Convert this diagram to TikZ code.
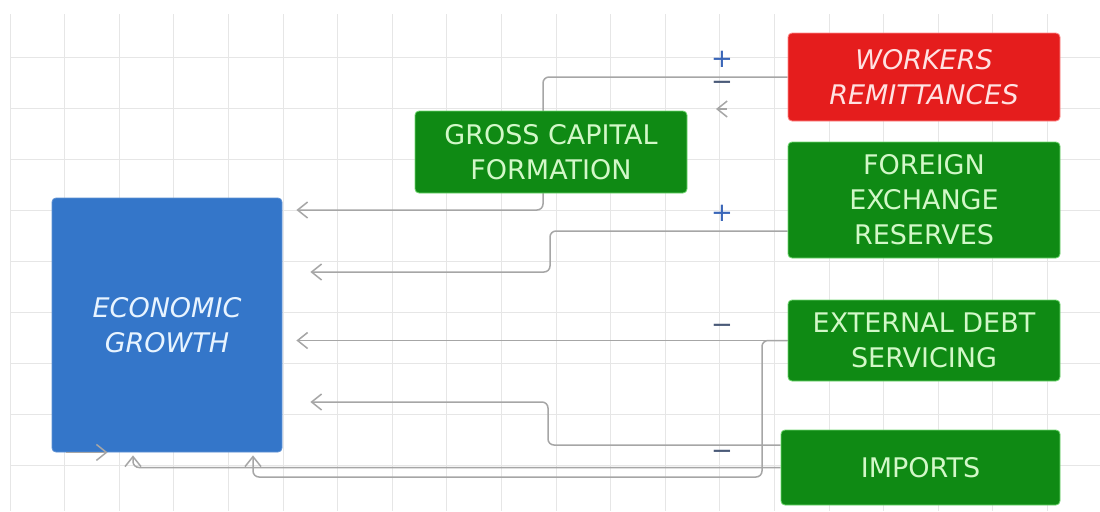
\documentclass[tikz,border=0pt]{standalone}
\usepackage{fontspec}
\setmainfont{DejaVu Sans}[ItalicFont={DejaVu Sans Oblique}]
\usetikzlibrary{arrows.meta}
\pgfdeclarelayer{background}
\pgfsetlayers{background,main}
\definecolor{egblue}{HTML}{3476C9}
\definecolor{boxgreen}{HTML}{0F8A14}
\definecolor{edgegreen}{HTML}{6FD86F}
\definecolor{textgreen}{HTML}{D2F8C8}
\definecolor{boxred}{HTML}{E51D1D}
\definecolor{edgered}{HTML}{FF8A8A}
\definecolor{textred}{HTML}{FFE2E2}
\definecolor{textblue}{HTML}{E8F4FF}
\definecolor{conngray}{HTML}{A6A6A6}
\definecolor{gridgray}{HTML}{E6E6E6}
\definecolor{signblue}{HTML}{3A66B8}
\definecolor{signdark}{HTML}{4A5A78}

\begin{document}
\begin{tikzpicture}[
    x=0.5pt, y=-0.5pt,
    >={Straight Barb[length=5pt, width=8pt]},
    box/.style={
        rounded corners=2pt, inner sep=0pt, align=center,
        line width=0.4pt, font=\fontsize{13.5}{17.5}\selectfont
      },
    greenbox/.style={box, fill=boxgreen, draw=edgegreen, text=textgreen},
    redbox/.style={box, fill=boxred, draw=edgered, text=textred},
    bluebox/.style={box, fill=egblue, draw=egblue!80!white, text=textblue},
    conn/.style={draw=conngray, line width=0.75pt, rounded corners=3pt, ->},
    gridline/.style={draw=gridgray, line width=0.5pt},
    sign/.style={inner sep=0pt, font=\fontsize{13}{13}\selectfont},
  ]
  \useasboundingbox (0,0) rectangle (1100,511);

  \node[bluebox, minimum width=115pt, minimum height=127pt] (eg) at (167,325)
    {\itshape ECONOMIC\\\itshape GROWTH};
  \node[greenbox, minimum width=136pt, minimum height=41pt] (gcf) at (551,152)
    {GROSS CAPITAL\\FORMATION};
  \node[redbox, minimum width=136pt, minimum height=44pt] (wr) at (924,77)
    {\itshape WORKERS\\\itshape REMITTANCES};
  \node[greenbox, minimum width=136pt, minimum height=58pt] (fer) at (924,200)
    {FOREIGN\\EXCHANGE\\RESERVES};
  \node[greenbox, minimum width=136pt, minimum height=40.5pt] (eds) at (924,340.5)
    {EXTERNAL DEBT\\SERVICING};
  \node[greenbox, minimum width=139.5pt, minimum height=37.5pt] (imp) at (920.5,467.5)
    {IMPORTS};

  % signs
  \node[sign, text=signblue] (wrplus) at (722,59) {+};
  \node[sign, text=signdark] (wrminus) at (722,86) {−};
  \node[sign, text=signblue] (ferplus) at (722,213) {+};
  \node[sign, text=signdark] (edsminus) at (722,329) {−};
  \node[sign, text=signdark] (impminus) at (722,455) {−};

  \begin{pgfonlayer}{background}
    \fill[white] (0,0) rectangle (1100,511);
    % grid
    \foreach \gx in {0,...,19}
      \draw[gridline] ({10+54.6*\gx},14) -- ({10+54.6*\gx},511);
    \foreach \gy in {0,...,8}
      \draw[gridline] (10,{57+51*\gy}) -- (1100,{57+51*\gy});
    % connectors
    \draw[conn, shorten >=7pt] (wr.west) -| (543,210) -- (eg.east |- 0,210);
    \draw[conn, shorten >=14pt] (fer.west |- 0,231) -| (550,272) -- (eg.east |- 0,272);
    \draw[conn, shorten >=7pt] (eds.west) -- (eg.east |- eds.west);
    \draw[conn, shorten >=1.5pt] (eds.west) -| (762,477) -| (253,0 |- eg.south);
    \draw[conn, shorten >=14pt] (imp.west |- 0,445) -| (548,402) -- (eg.east |- 0,402);
    \draw[conn, shorten >=1.5pt] (imp.west) -| (133,0 |- eg.south);
  \end{pgfonlayer}

  \coordinate (stray) at (727,109);
  \draw[conn] (stray) -- ++(-11,0);
  \draw[conn] ([xshift=7pt]eg.south west) -- ([xshift=28pt]eg.south west);
\end{tikzpicture}
\end{document}
